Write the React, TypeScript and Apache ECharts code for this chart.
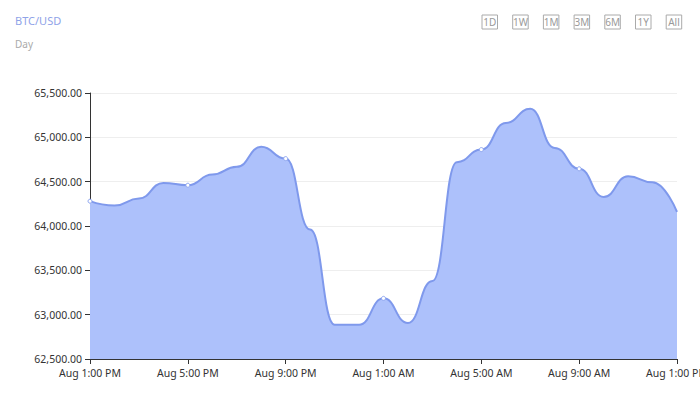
import React, { useEffect, useRef } from "react";
import * as echarts from "echarts";

const hours = [
  "1:00 PM", "2:00 PM", "3:00 PM", "4:00 PM", "5:00 PM", "6:00 PM", "7:00 PM", "8:00 PM",
  "9:00 PM", "10:00 PM", "11:00 PM", "12:00 AM", "1:00 AM", "2:00 AM", "3:00 AM", "4:00 AM",
  "5:00 AM", "6:00 AM", "7:00 AM", "8:00 AM", "9:00 AM", "10:00 AM", "11:00 AM", "12:00 PM", "1:00 PM",
];
const categories = hours.map((h) => "Aug " + h);
const prices = [
  64280, 64230, 64310, 64486, 64460, 64580, 64667, 64893, 64760, 63960, 62887, 62885, 63184,
  62906, 63380, 64720, 64862, 65163, 65321, 64881, 64645, 64328, 64561, 64493, 64160,
];
const yTicks = { min: 62500, max: 65500, step: 500 };
const ranges = ["1D", "1W", "1M", "3M", "6M", "1Y", "All"];

export default function App() {
  const ref = useRef<HTMLDivElement>(null);
  useEffect(() => {
    if (!ref.current) return;
    const chart = echarts.init(ref.current, null, { renderer: "svg" });
    const font = "'Noto Sans', sans-serif";
    const buttons = ranges.map((r, i) => ({
      type: "group",
      x: 482 + i * 30.7,
      y: 15,
      children: [
        {
          type: "rect",
          shape: { x: 0, y: 0, width: 15.5, height: 14 },
          style: { fill: "#fff", stroke: "#aaa", lineWidth: 1 },
        },
        {
          type: "text",
          x: 7.75,
          y: 7,
          style: {
            text: r,
            fill: "#999",
            fontSize: 10,
            fontFamily: font,
            align: "center",
            verticalAlign: "middle",
          },
        },
      ],
    }));
    chart.setOption({
      animation: false,
      backgroundColor: "#fff",
      title: {
        text: "BTC/USD",
        subtext: "Day",
        left: 10,
        top: 10,
        itemGap: 13,
        textStyle: { fontSize: 11, fontWeight: "normal", color: "#8fa3e8", fontFamily: font },
        subtextStyle: { fontSize: 10, color: "#aaa", fontFamily: font },
      },
      graphic: buttons,
      grid: { left: 90, right: 23, top: 93, bottom: 38, outerBoundsMode: "none", containLabel: false },
      xAxis: {
        type: "category",
        data: categories,
        boundaryGap: false,
        axisLine: { show: true, lineStyle: { color: "#333" } },
        axisTick: { show: true, interval: 3, lineStyle: { color: "#333" } },
        axisLabel: { interval: 3, color: "#333", fontSize: 10.5, fontFamily: font, margin: 8 },
        splitLine: { show: false },
      },
      yAxis: {
        type: "value",
        min: yTicks.min,
        max: yTicks.max,
        interval: yTicks.step,
        axisLine: { show: true, lineStyle: { color: "#333" } },
        axisTick: { show: true, lineStyle: { color: "#333" } },
        axisLabel: {
          color: "#333",
          fontSize: 10.5,
          fontFamily: font,
          margin: 8,
          formatter: (v: number) =>
            v.toLocaleString("en-US", { minimumFractionDigits: 2, maximumFractionDigits: 2 }),
        },
        splitLine: { show: true, lineStyle: { color: "#eee" } },
      },
      series: [
        {
          type: "line",
          data: prices,
          smooth: 0.5,
          smoothMonotone: "x",
          showAllSymbol: true,
          symbol: "circle",
          symbolSize: (_v: number, p: any) =>
            p.dataIndex % 4 === 0 && p.dataIndex < prices.length - 1 ? 4 : 0,
          itemStyle: { color: "#fff", borderColor: "#8ea6f0", borderWidth: 1 },
          lineStyle: { color: "#7f99ec", width: 2 },
          areaStyle: { color: "#adc1fb", opacity: 1 },
        },
      ],
    });
    return () => chart.dispose();
  }, []);
  return <div ref={ref} style={{ width: 700, height: 397, position: "absolute", left: 0, top: 0 }} />;
}
